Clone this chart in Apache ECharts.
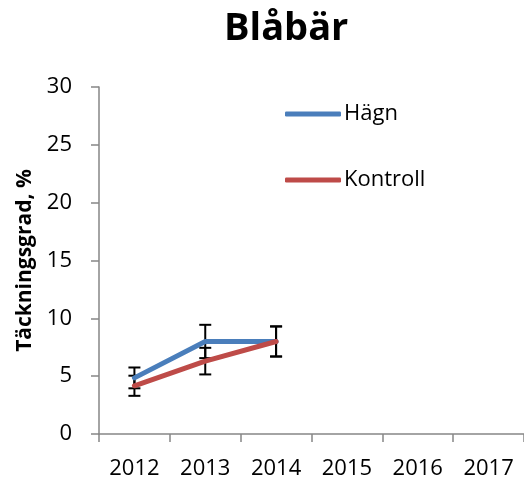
<!DOCTYPE html>
<html>
<head>
<meta charset="utf-8">
<script src="https://cdn.jsdelivr.net/npm/echarts@6/dist/echarts.min.js"></script>
<style>
html,body{margin:0;padding:0;background:#fff;}
#chart{width:524px;height:484px;}
</style>
</head>
<body>
<div id="chart"></div>
<script>
var years = ['2012', '2013', '2014', '2015', '2016', '2017'];
var hagn = [4.85, 8.0, 8.0, null, null, null];
var kontroll = [4.17, 6.3, 8.0, null, null, null];
var hagnErr = [0.9, 1.44, 1.3, null, null, null];
var kontrollErr = [0.87, 1.15, 1.3, null, null, null];
var yTicks = [0, 5, 10, 15, 20, 25, 30];

var FONT = 'Open Sans';
var BLUE = '#4a7ebb';
var RED = '#be4b48';

function errData(vals, errs) {
  var out = [];
  for (var i = 0; i < vals.length; i++) {
    if (vals[i] != null && errs[i] != null) {
      out.push([i, vals[i] - errs[i], vals[i] + errs[i]]);
    }
  }
  return out;
}

function renderErr(params, api) {
  var x = api.value(0);
  var lo = api.coord([x, api.value(1)]);
  var hi = api.coord([x, api.value(2)]);
  var cap = 6;
  var st = { stroke: '#000', lineWidth: 2, fill: null };
  return {
    type: 'group',
    children: [
      { type: 'line', shape: { x1: lo[0], y1: lo[1], x2: hi[0], y2: hi[1] }, style: st },
      { type: 'line', shape: { x1: lo[0] - cap, y1: lo[1], x2: lo[0] + cap, y2: lo[1] }, style: st },
      { type: 'line', shape: { x1: hi[0] - cap, y1: hi[1], x2: hi[0] + cap, y2: hi[1] }, style: st }
    ]
  };
}

var chart = echarts.init(document.getElementById('chart'), null, { renderer: 'canvas' });
chart.setOption({
  animation: false,
  backgroundColor: '#fff',
  title: {
    text: 'Blåbär',
    left: 219,
    top: 5,
    textStyle: { fontFamily: FONT, fontWeight: 'bold', fontSize: 38, color: '#000' }
  },
  legend: {
    orient: 'vertical',
    left: 280,
    top: 98,
    itemGap: 44,
    itemWidth: 56,
    itemHeight: 5,
    icon: 'roundRect',
    textStyle: { fontFamily: FONT, fontSize: 22, color: '#000', padding: [0, 0, 0, -2] },
    data: ['Hägn', 'Kontroll']
  },
  grid: { left: 99, top: 87, width: 426, height: 347 },
  xAxis: {
    type: 'category',
    data: years,
    boundaryGap: true,
    axisLine: { lineStyle: { color: '#868686', width: 1.5 } },
    axisTick: { show: true, length: 8, lineStyle: { color: '#868686', width: 1.5 } },
    axisLabel: { fontFamily: FONT, fontSize: 22, color: '#000', margin: 24 },
    splitLine: { show: false }
  },
  yAxis: {
    type: 'value',
    min: 0,
    max: 30,
    interval: 5,
    name: 'Täckningsgrad, %',
    nameLocation: 'middle',
    nameGap: 62,
    nameTextStyle: { fontFamily: FONT, fontWeight: 'bold', fontSize: 21, color: '#000' },
    axisLine: { show: true, lineStyle: { color: '#868686', width: 1.5 } },
    axisTick: { show: true, length: 8, lineStyle: { color: '#868686', width: 1.5 } },
    axisLabel: { fontFamily: FONT, fontSize: 22, color: '#000', margin: 27 },
    splitLine: { show: false }
  },
  series: [
    {
      name: 'HägnErr', type: 'custom', renderItem: renderErr,
      data: errData(hagn, hagnErr), z: 1, silent: true
    },
    {
      name: 'KontrollErr', type: 'custom', renderItem: renderErr,
      data: errData(kontroll, kontrollErr), z: 1, silent: true
    },
    {
      name: 'Hägn', type: 'line', data: hagn, color: BLUE,
      showSymbol: false, symbol: 'none', z: 3,
      lineStyle: { width: 5, color: BLUE, cap: 'round', join: 'round' }
    },
    {
      name: 'Kontroll', type: 'line', data: kontroll, color: RED,
      showSymbol: false, symbol: 'none', z: 4,
      lineStyle: { width: 5, color: RED, cap: 'round', join: 'round' }
    }
  ]
});
</script>
</body>
</html>
